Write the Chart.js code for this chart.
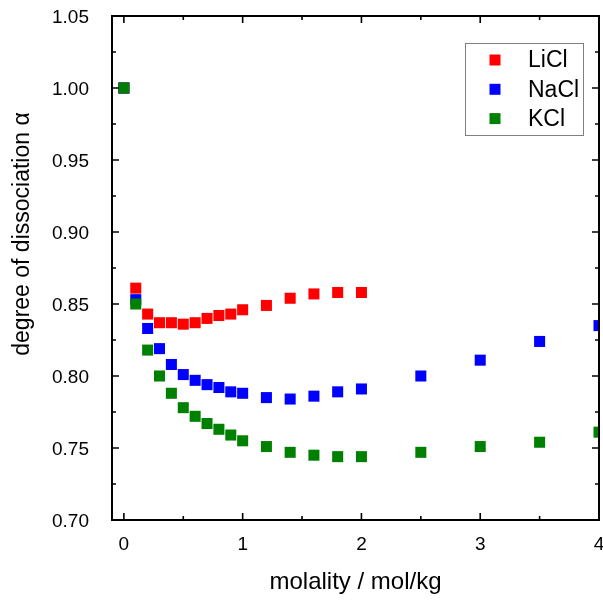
<!DOCTYPE html>
<html>
<head>
<meta charset="utf-8">
<title>Degree of dissociation vs molality</title>
<script src="https://cdn.jsdelivr.net/npm/chart.js@4.4.0/dist/chart.umd.min.js"></script>
<style>
    html, body { margin: 0; padding: 0; background: #fff; }
    canvas { display: block; }
</style>
</head>
<body>
<canvas id="alpha-chart" width="603" height="601"></canvas>
<script>
// Degree of dissociation of alkali chlorides vs molality

const FONT = "'Liberation Sans', Arial, sans-serif";

// molality in mol/kg
const molality = [0, 0.1, 0.2, 0.3, 0.4, 0.5, 0.6, 0.7, 0.8, 0.9, 1.0,
                  1.2, 1.4, 1.6, 1.8, 2.0, 2.5, 3.0, 3.5, 4.0];

// LiCl only measured up to 2 mol/kg
const alphaLiCl = [1.000, 0.861, 0.843, 0.837, 0.837, 0.836, 0.837, 0.840, 0.842, 0.843, 0.846,
                   0.849, 0.854, 0.857, 0.858, 0.858];
const alphaNaCl = [1.000, 0.853, 0.833, 0.819, 0.808, 0.801, 0.797, 0.794, 0.792, 0.789, 0.788,
                   0.785, 0.784, 0.786, 0.789, 0.791, 0.800, 0.811, 0.824, 0.835];
const alphaKCl  = [1.000, 0.850, 0.818, 0.800, 0.788, 0.778, 0.772, 0.767, 0.763, 0.759, 0.755,
                   0.751, 0.747, 0.745, 0.744, 0.744, 0.747, 0.751, 0.754, 0.761];

const seriesNames = ['LiCl', 'NaCl', 'KCl'];
const seriesColors = ['#ff0000', '#0000ff', '#008000'];

const xTicks = [0, 1, 2, 3, 4];
const yTicks = [0.70, 0.75, 0.80, 0.85, 0.90, 0.95, 1.00, 1.05];

const xTitle = 'molality / mol/kg';
const yTitle = 'degree of dissociation \u03b1';

function toPoints(values) {
    return values.map((v, i) => ({ x: molality[i], y: v }));
}

function midpoints(ticks) {
    const out = [];
    for (let i = 0; i < ticks.length - 1; i++) out.push((ticks[i] + ticks[i + 1]) / 2);
    return out;
}

// Box frame with inward major/minor ticks on all four sides, plus axis titles
const frameAndTicks = {
    id: 'frameAndTicks',
    afterDatasetsDraw(chart) {
        const { ctx, chartArea: a, scales: { x, y } } = chart;
        ctx.save();
        ctx.strokeStyle = '#000';

        ctx.lineWidth = 1.6;
        ctx.beginPath();
        const mark = (vals, len) => {
            vals.forEach(v => {
                const px = x.getPixelForValue(v);
                ctx.moveTo(px, a.bottom); ctx.lineTo(px, a.bottom - len);
                ctx.moveTo(px, a.top); ctx.lineTo(px, a.top + len);
            });
        };
        const markY = (vals, len) => {
            vals.forEach(v => {
                const py = y.getPixelForValue(v);
                ctx.moveTo(a.left, py); ctx.lineTo(a.left + len, py);
                ctx.moveTo(a.right, py); ctx.lineTo(a.right - len, py);
            });
        };
        mark(xTicks, 7);
        mark(midpoints(xTicks), 4);
        markY(yTicks, 7);
        markY(midpoints(yTicks), 4);
        ctx.stroke();

        ctx.lineWidth = 2;
        ctx.strokeRect(a.left, a.top, a.right - a.left, a.bottom - a.top);

        // axis titles
        ctx.fillStyle = '#000';
        ctx.font = `24px ${FONT}`;
        ctx.textAlign = 'center';
        ctx.textBaseline = 'alphabetic';
        ctx.fillText(xTitle, (a.left + a.right) / 2, 589);

        ctx.font = `23px ${FONT}`;
        ctx.translate(28.5, 234);
        ctx.rotate(-Math.PI / 2);
        ctx.fillText(yTitle, 0, 0);
        ctx.restore();
    }
};

// Framed legend in the upper right of the plot
const boxLegend = {
    id: 'boxLegend',
    afterDraw(chart) {
        const ctx = chart.ctx;
        ctx.save();
        ctx.fillStyle = '#fff';
        ctx.fillRect(465.5, 43.5, 118, 92);
        ctx.strokeStyle = '#808080';
        ctx.lineWidth = 1;
        ctx.strokeRect(465.5, 43.5, 118, 92);

        ctx.font = `23px ${FONT}`;
        ctx.textAlign = 'left';
        ctx.textBaseline = 'middle';
        seriesNames.forEach((name, i) => {
            const cy = 60 + i * 29.3;
            ctx.fillStyle = seriesColors[i];
            ctx.fillRect(489.5, cy - 5.5, 11, 11);
            ctx.fillStyle = '#000';
            ctx.fillText(name, 528, cy + 1);
        });
        ctx.restore();
    }
};

const seriesValues = [alphaLiCl, alphaNaCl, alphaKCl];

new Chart(document.getElementById('alpha-chart'), {
    type: 'scatter',
    data: {
        datasets: seriesNames.map((name, i) => ({
            label: name,
            data: toPoints(seriesValues[i]),
            pointStyle: 'rect',
            pointRadius: 7.8,
            pointHoverRadius: 7.8,
            backgroundColor: seriesColors[i],
            borderColor: seriesColors[i],
            borderWidth: 0,
            clip: 0,
            // KCl on top, LiCl at the bottom
            order: 3 - i
        }))
    },
    options: {
        responsive: false,
        animation: false,
        layout: {
            autoPadding: false,
            padding: { top: 16, right: 4, left: 0, bottom: 0 }
        },
        plugins: {
            legend: { display: false },
            tooltip: { enabled: false }
        },
        scales: {
            x: {
                type: 'linear',
                min: -0.1,
                max: 4,
                grid: { display: false, drawTicks: false },
                border: { display: false },
                afterBuildTicks: s => { s.ticks = xTicks.map(v => ({ value: v })); },
                afterFit: s => { s.height = 81; s.paddingLeft = 0; s.paddingRight = 0; },
                ticks: {
                    color: '#000',
                    padding: 13,
                    maxRotation: 0,
                    font: { family: FONT, size: 19 },
                    callback: v => String(v)
                }
            },
            y: {
                type: 'linear',
                min: 0.70,
                max: 1.05,
                grid: { display: false, drawTicks: false },
                border: { display: false },
                afterBuildTicks: s => { s.ticks = yTicks.map(v => ({ value: v })); },
                afterFit: s => { s.width = 112; s.paddingTop = 0; s.paddingBottom = 0; },
                ticks: {
                    color: '#000',
                    padding: 23,
                    labelOffset: 2,
                    font: { family: FONT, size: 19 },
                    callback: v => Number(v).toFixed(2)
                }
            }
        }
    },
    plugins: [frameAndTicks, boxLegend]
});
</script>
</body>
</html>
